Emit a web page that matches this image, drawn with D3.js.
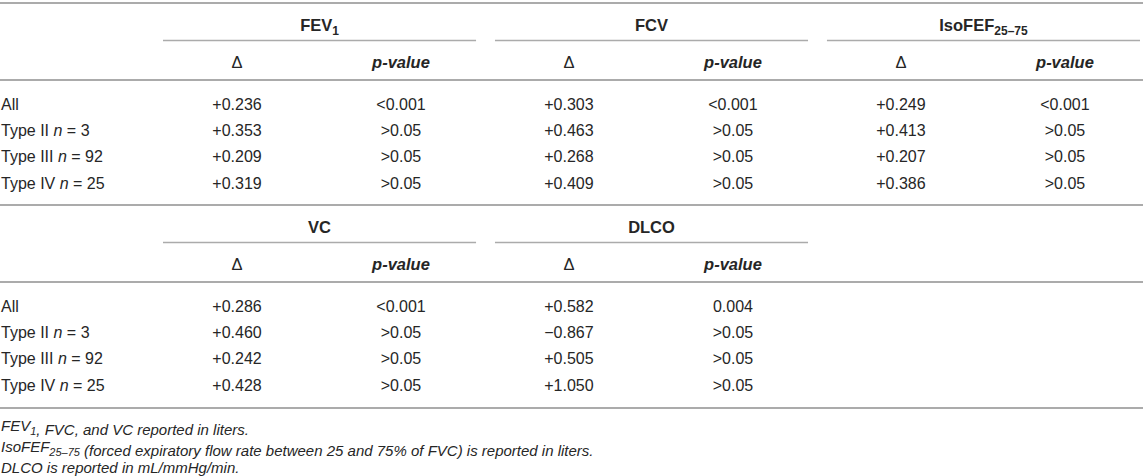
<!DOCTYPE html>
<html lang="en">
<head>
    <meta charset="UTF-8">
    <title>Table</title>
    <script src="https://cdn.jsdelivr.net/npm/d3@7"></script>
    <style>
        body { margin: 0; background: #fff; }
        text { font-family: "Liberation Sans", Arial, Helvetica, sans-serif; fill: #262626; }
    </style>
</head>
<body>
    <div id="Table" style="width: 1143px; height: 476px;"></div>
    <script>
        // rows
        const rowTypes = ['All', 'Type II', 'Type III', 'Type IV'];
        const rowN = [null, 3, 92, 25];

        // table 1
        const top_measures = ['FEV', 'FCV', 'IsoFEF'];
        const top_subs = ['1', '', '25\u201375'];
        const fev1_delta = ['+0.236', '+0.353', '+0.209', '+0.319'];
        const fev1_p = ['<0.001', '>0.05', '>0.05', '>0.05'];
        const fcv_delta = ['+0.303', '+0.463', '+0.268', '+0.409'];
        const fcv_p = ['<0.001', '>0.05', '>0.05', '>0.05'];
        const iso_delta = ['+0.249', '+0.413', '+0.207', '+0.386'];
        const iso_p = ['<0.001', '>0.05', '>0.05', '>0.05'];

        // table 2
        const bottom_measures = ['VC', 'DLCO'];
        const bottom_subs = ['', ''];
        const vc_delta = ['+0.286', '+0.460', '+0.242', '+0.428'];
        const vc_p = ['<0.001', '>0.05', '>0.05', '>0.05'];
        const dlco_delta = ['+0.582', '\u22120.867', '+0.505', '+1.050'];
        const dlco_p = ['0.004', '>0.05', '>0.05', '>0.05'];

        const subHeaders = ['\u0394', 'p-value'];

        // footnotes: [before sub, sub, after sub]
        const notes = [
            ['FEV', '1', ', FVC, and VC reported in liters.'],
            ['IsoFEF', '25\u201375', ' (forced expiratory flow rate between 25 and 75% of FVC) is reported in liters.'],
            ['DLCO is reported in mL/mmHg/min.', '', '']
        ];

        const c_width = 1143, c_height = 476;
        const line_color = '#ababab';
        const fontSize = 16;
        const headSize = 16.5;

        const svg = d3.select('#Table')
                    .append('svg')
                    .attr('width', c_width)
                    .attr('height', c_height);

        // column groups
        const xGroup = d3.scaleBand()
                .domain(d3.range(0, 3))
                .range([163, 1140])
                .paddingInner(0.057);
        const xSub = d3.scalePoint()
                .domain(subHeaders)
                .range([74, 238]);

        function addSub(sel, main, sub, subSize){
            sel.append('tspan').text(main);
            if(sub){
                sel.append('tspan')
                    .attr('dy', 4)
                    .style('font-size', subSize + 'px')
                    .text(sub);
                sel.append('tspan').attr('dy', -4).text('');
            }
        }

        function hline(y, x1, x2, w){
            svg.append('line')
                .attr('x1', x1).attr('x2', x2)
                .attr('y1', y).attr('y2', y)
                .attr('stroke', line_color)
                .attr('stroke-width', w);
        }

        function drawTable(top, measures, subs, deltas, ps){
            const yRow = d3.scalePoint()
                    .domain(rowTypes)
                    .range([top + 101, top + 180]);

            hline(top, 0, c_width, 2);
            hline(top + 77, 0, c_width, 2);

            measures.forEach(function(m, g){
                const gx = xGroup(g);
                const title = svg.append('text')
                        .attr('x', gx + xGroup.bandwidth()/2)
                        .attr('y', top + 22)
                        .attr('dy', '0.35em')
                        .attr('text-anchor', 'middle')
                        .style('font-size', headSize + 'px')
                        .style('font-weight', 'bold');
                addSub(title, m, subs[g], 12);

                hline(top + 37.5, gx, gx + xGroup.bandwidth(), 1.5);

                subHeaders.forEach(function(h, k){
                    svg.append('text')
                        .attr('x', gx + xSub(h))
                        .attr('y', top + 59)
                        .attr('dy', '0.35em')
                        .attr('text-anchor', 'middle')
                        .style('font-size', headSize + 'px')
                        .style('font-weight', k == 0 ? 'normal' : 'bold')
                        .style('font-style', k == 0 ? 'normal' : 'italic')
                        .text(h);
                });

                svg.selectAll('.d' + top + '_' + g)
                    .data(deltas[g])
                    .enter()
                    .append('text')
                    .attr('x', gx + xSub(subHeaders[0]))
                    .attr('y', function(d, i){ return yRow(rowTypes[i]); })
                    .attr('dy', '0.35em')
                    .attr('text-anchor', 'middle')
                    .style('font-size', fontSize + 'px')
                    .text(function(d){ return d; });

                svg.selectAll('.p' + top + '_' + g)
                    .data(ps[g])
                    .enter()
                    .append('text')
                    .attr('x', gx + xSub(subHeaders[1]))
                    .attr('y', function(d, i){ return yRow(rowTypes[i]); })
                    .attr('dy', '0.35em')
                    .attr('text-anchor', 'middle')
                    .style('font-size', fontSize + 'px')
                    .text(function(d){ return d; });
            });

            rowTypes.forEach(function(r, i){
                const t = svg.append('text')
                        .attr('x', 1)
                        .attr('y', yRow(r))
                        .attr('dy', '0.35em')
                        .style('font-size', fontSize + 'px');
                t.append('tspan').text(r);
                if(rowN[i] != null){
                    t.append('tspan').text(' ');
                    t.append('tspan').style('font-style', 'italic').text('n');
                    t.append('tspan').text(' = ' + rowN[i]);
                }
            });
        }

        drawTable(3, top_measures, top_subs,
                  [fev1_delta, fcv_delta, iso_delta], [fev1_p, fcv_p, iso_p]);
        drawTable(205, bottom_measures, bottom_subs,
                  [vc_delta, dlco_delta], [vc_p, dlco_p]);

        hline(408, 0, c_width, 2);

        // footnotes
        const yNote = d3.scalePoint()
                .domain(d3.range(0, notes.length))
                .range([426, 468]);
        notes.forEach(function(n, i){
            const t = svg.append('text')
                    .attr('x', 1)
                    .attr('y', yNote(i))
                    .attr('dy', '0.35em')
                    .style('font-size', '15px')
                    .style('font-style', 'italic');
            addSub(t, n[0], n[1], 11);
            if(n[2]) t.append('tspan').text(n[2]);
        });
    </script>
</body>
</html>
